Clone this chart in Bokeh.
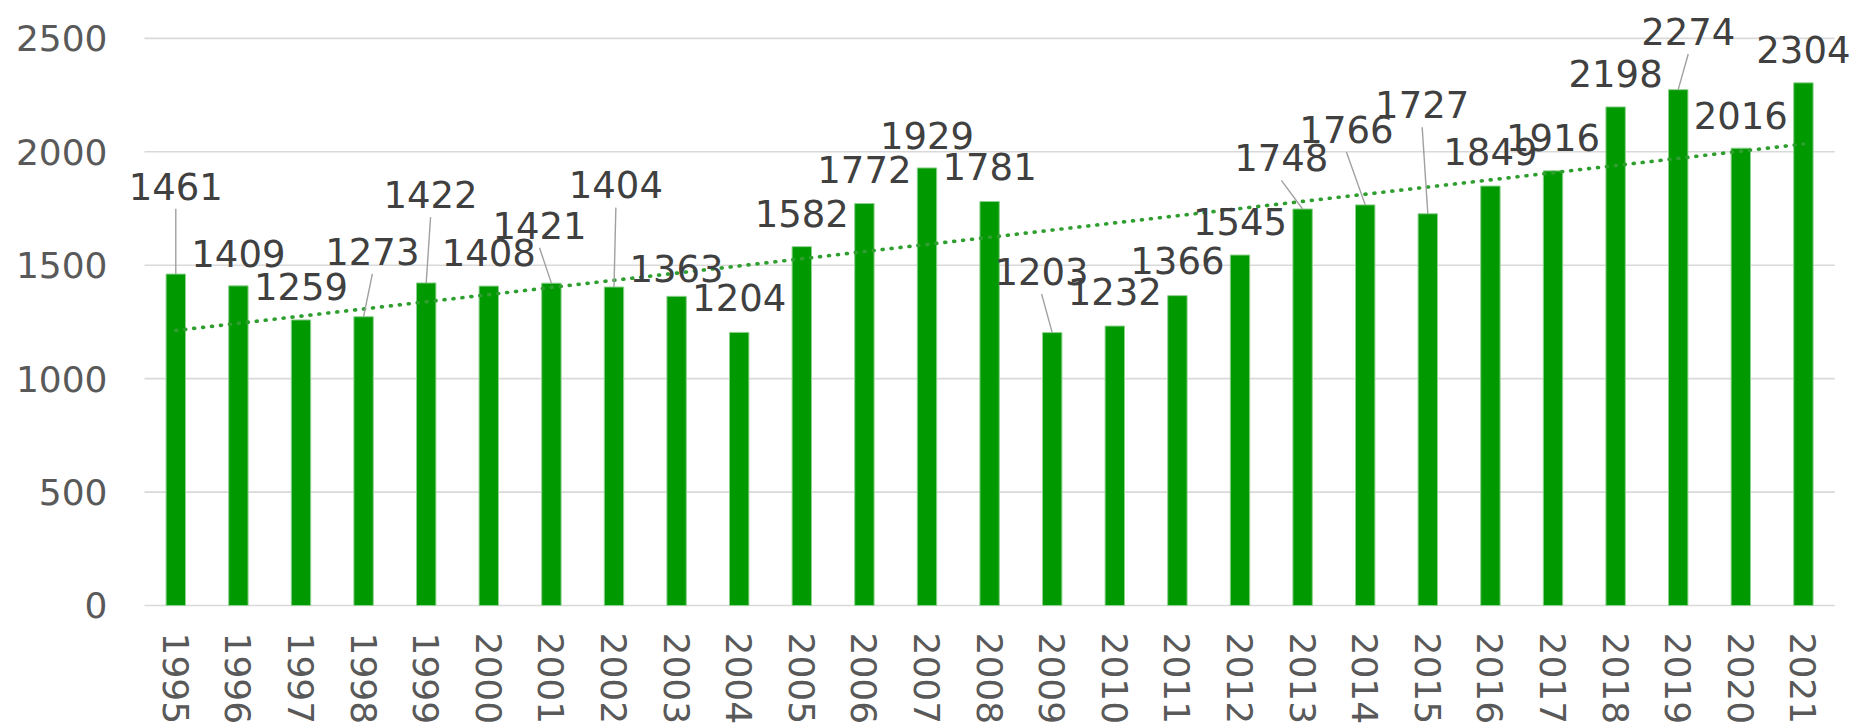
import numpy as np
from bokeh.plotting import figure
from bokeh.models import ColumnDataSource, LabelSet, Range1d, FixedTicker
from bokeh.core.properties import value
from bokeh.embed import file_html
from bokeh.resources import INLINE

# ---- data ----
years = ["1995", "1996", "1997", "1998", "1999", "2000", "2001", "2002", "2003",
         "2004", "2005", "2006", "2007", "2008", "2009", "2010", "2011", "2012",
         "2013", "2014", "2015", "2016", "2017", "2018", "2019", "2020", "2021"]
values = [1461, 1409, 1259, 1273, 1422, 1408, 1421, 1404, 1363,
          1204, 1582, 1772, 1929, 1781, 1203, 1232, 1366, 1545,
          1748, 1766, 1727, 1849, 1916, 2198, 2274, 2016, 2304]
y_ticks = [0, 500, 1000, 1500, 2000, 2500]

# ---- label placement (layout, not data) ----
label_dx = [0, 0, 0, 0.14, 0.07, 0, -0.19, 0.03, 0,
            0, 0, 0, 0, 0, -0.17, 0, 0, 0,
            -0.34, -0.30, -0.09, 0, 0, 0, 0.16, 0, 0]
label_y = [1849, 1552, 1406, 1562, 1812, 1557, 1677, 1854, 1484,
           1359, 1729, 1922, 2073, 1937, 1474, 1385, 1521, 1693,
           1974, 2099, 2208, 2000, 2062, 2344, 2531, 2161, 2453]
leader_idx = [0, 3, 4, 6, 7, 14, 18, 19, 20, 24]

FONT = "DejaVu Sans"
n = len(years)
xc = np.arange(n) + 0.5          # centre of each year's slot
x_edges = (0, n)                 # plot-area extent in slot units

p = figure(x_range=Range1d(-0.447, n + 0.30),
           y_range=Range1d(-529, 2667),
           width=1853, height=725,
           output_backend="svg", toolbar_location=None,
           min_border_left=116, min_border_right=0,
           min_border_top=0, min_border_bottom=0)
p.outline_line_color = None
p.background_fill_color = "white"
p.border_fill_color = "white"
p.xgrid.visible = False
p.ygrid.visible = False
p.xaxis.visible = False

# horizontal gridlines over the plot area
p.segment(x0=[x_edges[0]] * len(y_ticks), x1=[x_edges[1]] * len(y_ticks),
          y0=y_ticks, y1=y_ticks, line_color="#d9d9d9", line_width=1.6)

# bars
p.vbar(x=list(xc), top=values, width=0.31, bottom=0, fill_color="#009900",
       line_color="#8fd18f", line_width=1)

# linear trend line
coef = np.polyfit(np.arange(n), np.array(values, dtype=float), 1)
trend = np.polyval(coef, np.arange(n))
p.line(x=list(xc), y=list(trend), line_color="#2e9e2e", line_width=3.6,
       line_dash="1 8", line_cap="round")

# leader lines
lx0 = [xc[i] + label_dx[i] for i in leader_idx]
ly0 = [label_y[i] - 100 for i in leader_idx]
lx1 = [xc[i] for i in leader_idx]
ly1 = [values[i] for i in leader_idx]
p.segment(x0=lx0, y0=ly0, x1=lx1, y1=ly1, line_color="#a0a0a0", line_width=1.4)

# data labels
src = ColumnDataSource(dict(x=list(xc + np.array(label_dx)), y=label_y,
                            t=[str(v) for v in values]))
p.add_layout(LabelSet(x="x", y="y", text="t", source=src,
                      text_align="center", text_baseline="middle",
                      text_font=value(FONT), text_font_size="37px",
                      text_color="#404040"))

# category (year) labels, rotated, below the baseline
xsrc = ColumnDataSource(dict(x=list(xc), y=[-119] * n, t=years))
p.text(x="x", y="y", text="t", source=xsrc, angle=-np.pi / 2,
       text_align="left", text_baseline="middle",
       text_font=value(FONT), text_font_size="36px", text_color="#595959")

# y axis
p.yaxis.ticker = FixedTicker(ticks=y_ticks)
p.yaxis.axis_line_color = None
p.yaxis.major_tick_line_color = None
p.yaxis.minor_tick_line_color = None
p.yaxis.major_label_standoff = 3
p.yaxis.major_label_text_font = FONT
p.yaxis.major_label_text_font_size = "36px"
p.yaxis.major_label_text_color = "#595959"

open("out.html", "w").write(file_html(p, INLINE))
